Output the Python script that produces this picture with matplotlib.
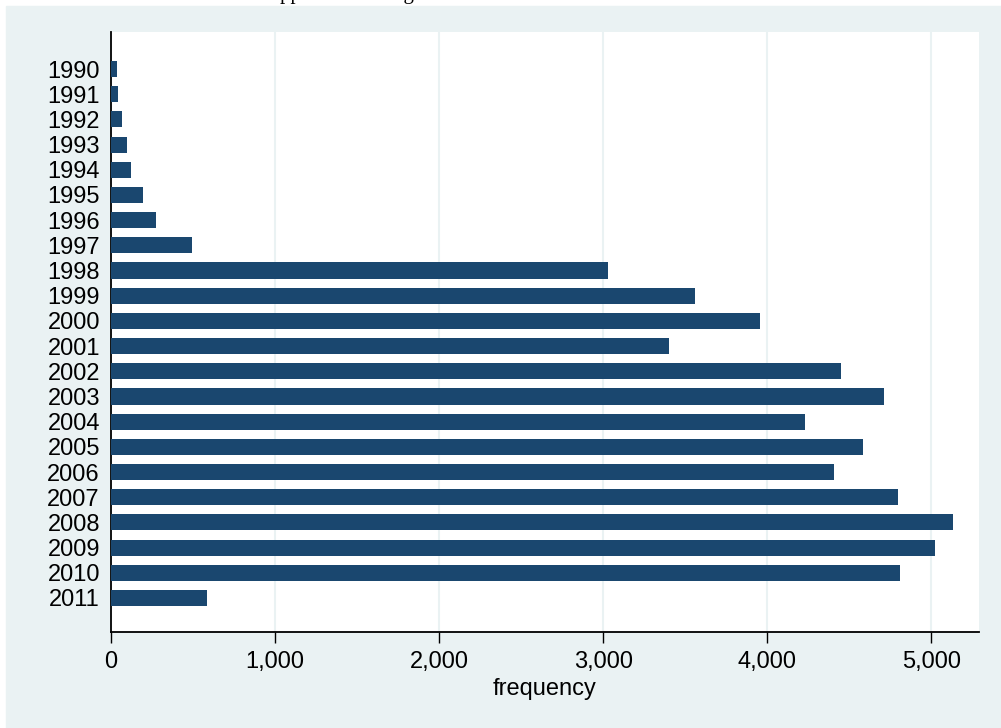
import matplotlib.pyplot as plt
from matplotlib.patches import Rectangle
from matplotlib.ticker import FuncFormatter

years = [str(y) for y in range(1990, 2012)]
frequency = [37, 43, 67, 98, 122, 195, 274, 494, 3030, 3561, 3957, 3402,
             4451, 4713, 4232, 4585, 4409, 4799, 5134, 5024, 4811, 585]
xticks = [0, 1000, 2000, 3000, 4000, 5000]

bg = "#EAF2F3"
navy = "#1A476F"
plt.rcParams["font.family"] = ["Liberation Sans", "DejaVu Sans"]

fig = plt.figure(figsize=(10.01, 7.28), dpi=100, facecolor="white")
# outer background, leaves a thin white strip at top and left
fig.patches.append(Rectangle((6 / 1001, 0), 1, (728 - 6) / 728,
                             transform=fig.transFigure, color=bg, zorder=-10))
# title cut off at the top edge, as in the source image
fig.text(265 / 1001, 1.0 + 1 / 728, "Application filings", family="Liberation Serif",
         fontsize=15, va="baseline", ha="left")

ax = fig.add_axes([111 / 1001, (728 - 632) / 728, (979 - 111) / 1001, (632 - 32) / 728])
ax.set_facecolor("white")

pos = list(range(len(years)))
ax.barh(pos, frequency, height=0.64, color=navy, zorder=3)
ax.set_yticks(pos)
ax.set_yticklabels(years)
ax.set_ylim(len(years) - 1 + 1.35, -1.47)
ax.set_xlim(0, 5290)
ax.set_xticks(xticks)
ax.xaxis.set_major_formatter(FuncFormatter(lambda v, p: f"{int(v):,}"))
ax.grid(axis="x", color=bg, linewidth=1.5, zorder=0)
ax.set_axisbelow(True)

for s in ["top", "right"]:
    ax.spines[s].set_visible(False)
for s in ["left", "bottom"]:
    ax.spines[s].set_linewidth(1.3)
    ax.spines[s].set_color("black")

ax.tick_params(axis="y", length=0, pad=8, labelsize=17)
ax.tick_params(axis="x", length=8, width=1.0, pad=6, labelsize=17)
ax.set_xlabel("frequency", fontsize=17, labelpad=3)

fig.savefig("out.png", dpi=100, facecolor=fig.get_facecolor())
